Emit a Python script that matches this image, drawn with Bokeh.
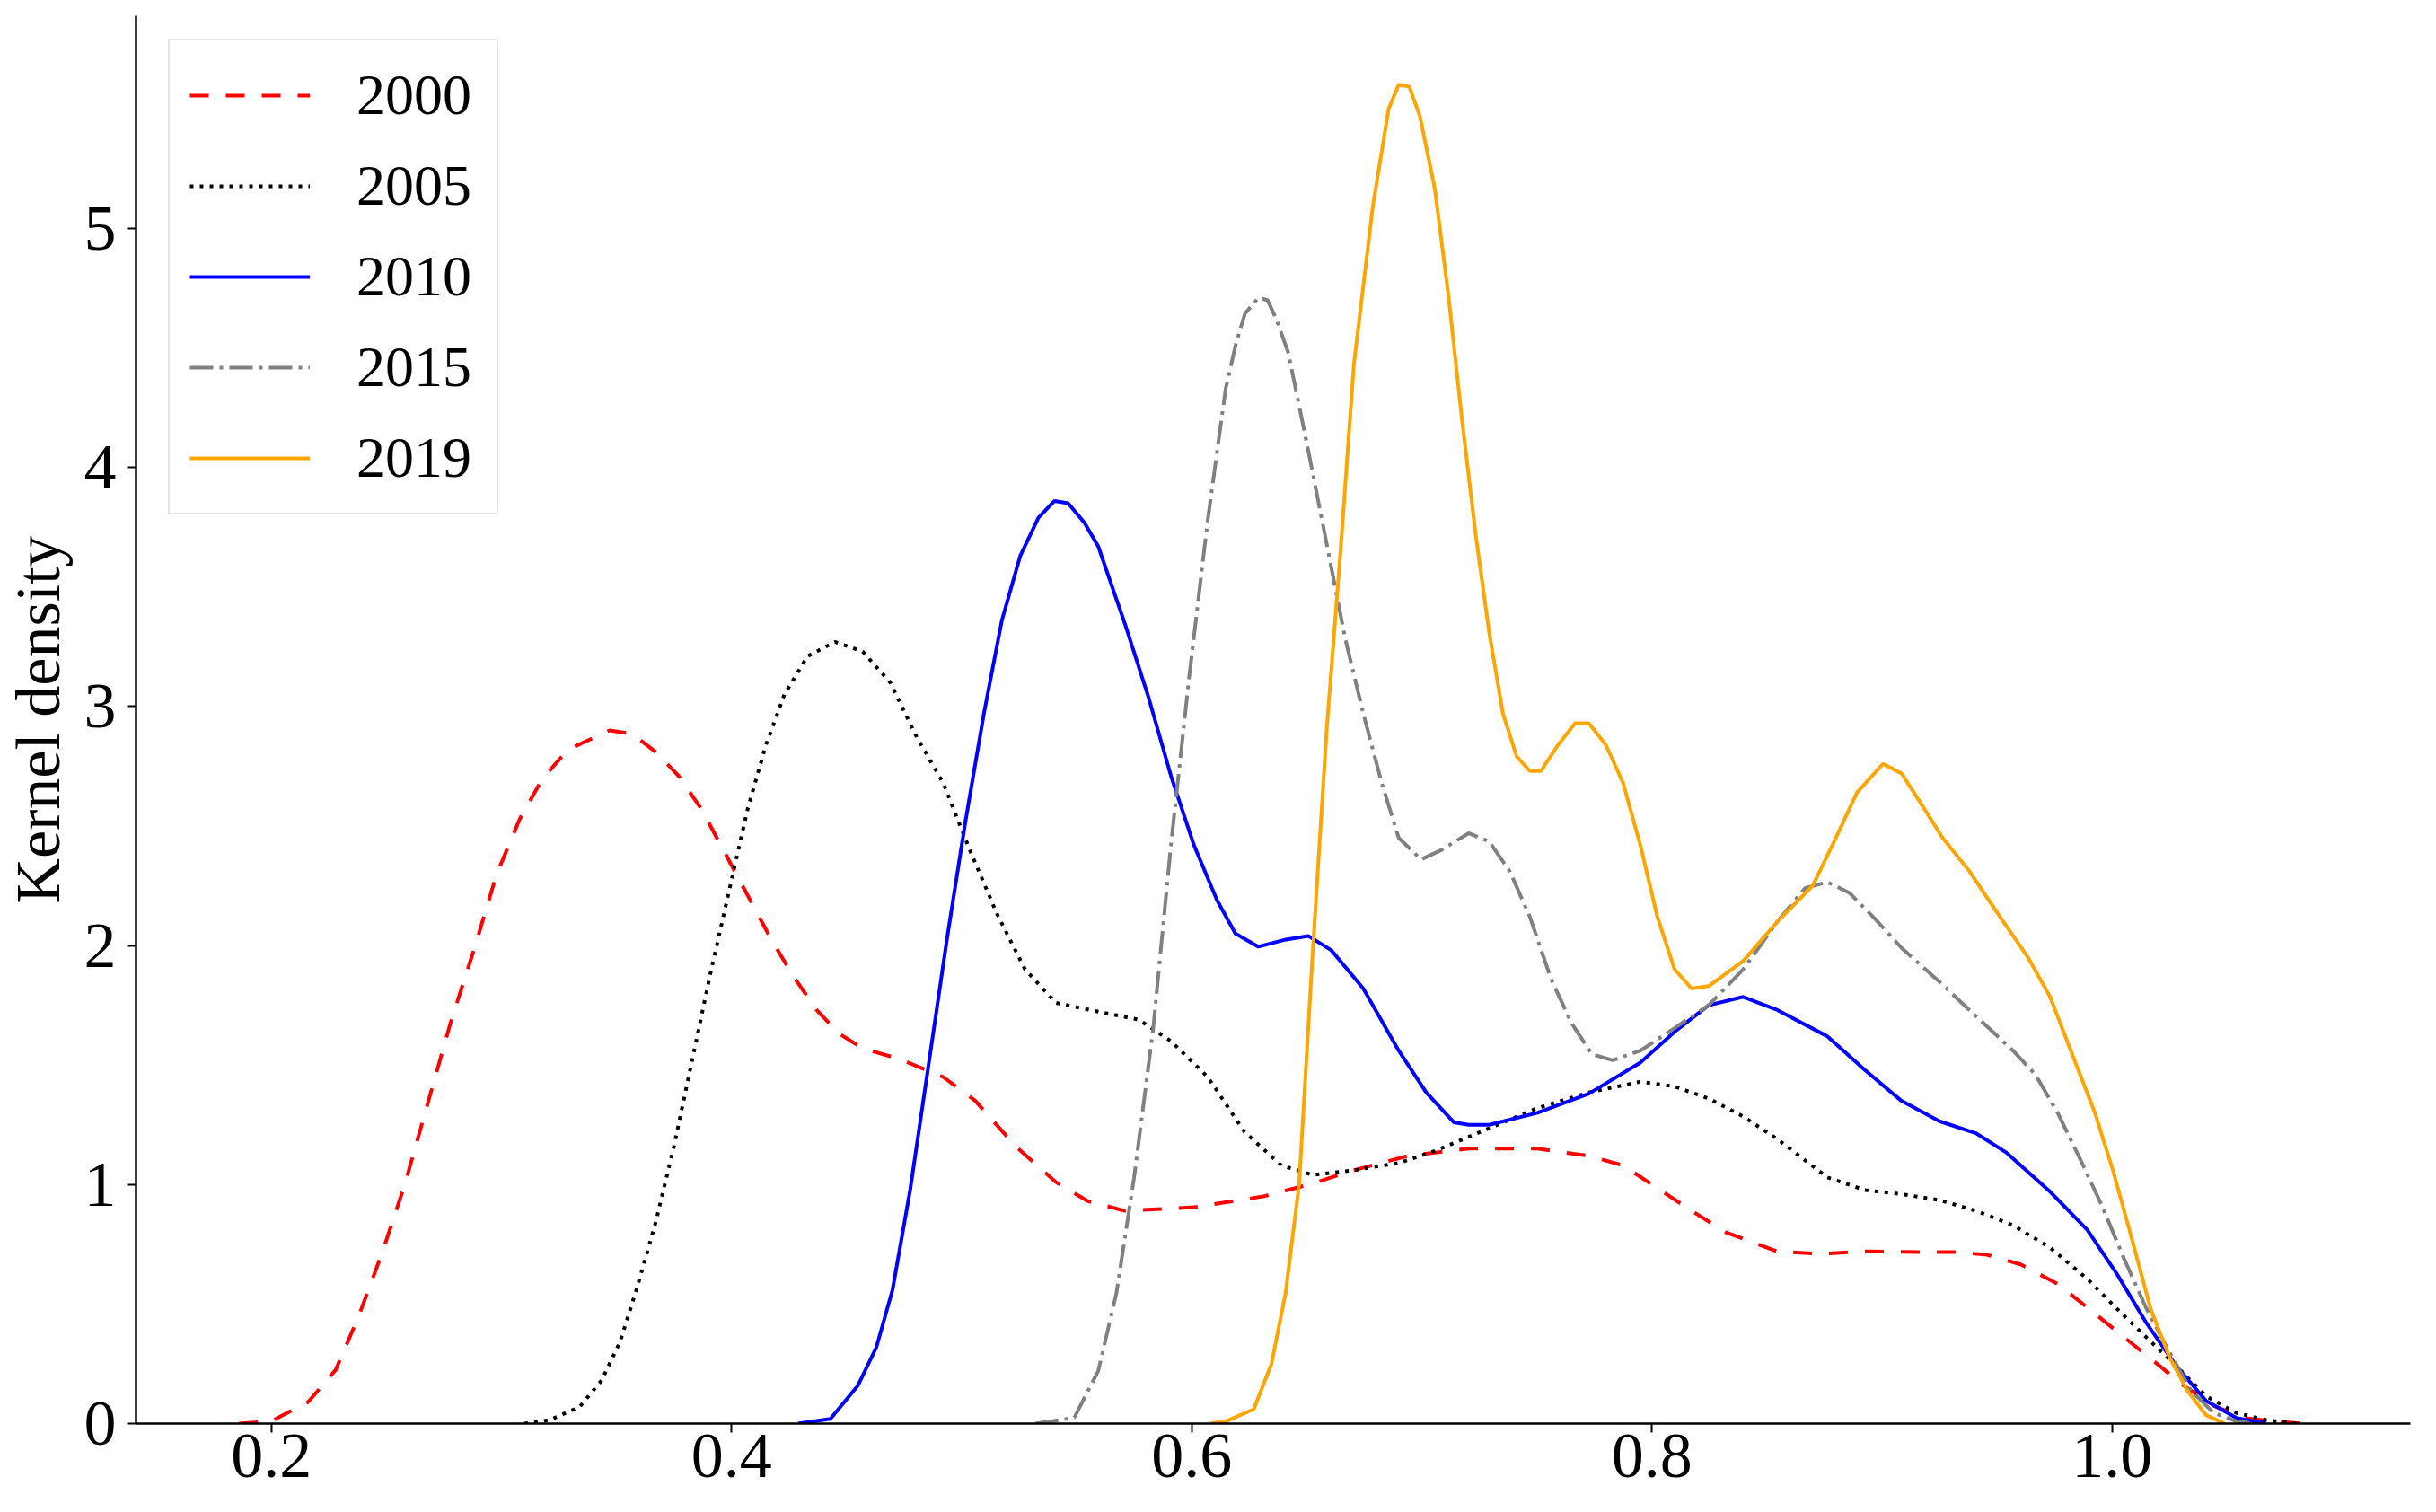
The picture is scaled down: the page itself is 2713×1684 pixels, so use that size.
from bokeh.plotting import figure
from bokeh.models import Range1d, FixedTicker, Legend, LegendItem, NumeralTickFormatter
from bokeh.embed import file_html
from bokeh.resources import INLINE

# ---------------- data ----------------
years = ["2000", "2005", "2010", "2015", "2019"]

x_2000 = [0.186, 0.200, 0.216, 0.228, 0.238, 0.248, 0.258, 0.268, 0.278, 0.288,
          0.298, 0.308, 0.318, 0.329, 0.347, 0.357, 0.367, 0.377, 0.387, 0.397,
          0.407, 0.417, 0.427, 0.437, 0.447, 0.457, 0.473, 0.492, 0.506, 0.5235,
          0.541, 0.555, 0.571, 0.601, 0.631, 0.651, 0.6705, 0.694, 0.7204, 0.7503,
          0.7726, 0.7875, 0.8024, 0.8173, 0.8322, 0.8546, 0.8725, 0.8925, 0.9166, 0.9328,
          0.9457, 0.9603, 0.9764, 0.9926, 1.0054, 1.0183, 1.0313, 1.0442, 1.057, 1.070,
          1.083]
y_2000 = [0.0, 0.01, 0.09, 0.225, 0.45, 0.71, 1.0, 1.34, 1.68, 1.98,
          2.30, 2.53, 2.70, 2.82, 2.90, 2.885, 2.81, 2.71, 2.57, 2.39,
          2.21, 2.03, 1.87, 1.73, 1.63, 1.57, 1.525, 1.45, 1.35, 1.16,
          1.01, 0.93, 0.89, 0.905, 0.95, 1.0, 1.06, 1.12, 1.15, 1.15,
          1.12, 1.08, 0.985, 0.89, 0.80, 0.72, 0.71, 0.72, 0.717, 0.717,
          0.706, 0.666, 0.584, 0.46, 0.36, 0.26, 0.158, 0.075, 0.024, 0.01,
          0.0]

x_2005 = [0.310, 0.321, 0.334, 0.3435, 0.3515, 0.359, 0.367, 0.375, 0.383, 0.391,
          0.399, 0.407, 0.415, 0.423, 0.433, 0.445, 0.457, 0.469, 0.4806, 0.492,
          0.504, 0.5155, 0.5276, 0.541, 0.561, 0.577, 0.591, 0.607, 0.623, 0.639,
          0.6526, 0.6705, 0.690, 0.7057, 0.728, 0.7503, 0.7726, 0.795, 0.81, 0.8247,
          0.8397, 0.8546, 0.8695, 0.8763, 0.8925, 0.9085, 0.925, 0.9408, 0.957, 0.9731,
          0.9893, 1.0022, 1.015, 1.028, 1.0409, 1.054, 1.067, 1.08]
y_2005 = [0.0, 0.015, 0.07, 0.18, 0.34, 0.57, 0.84, 1.16, 1.525, 1.89,
          2.23, 2.57, 2.84, 3.05, 3.21, 3.27, 3.23, 3.10, 2.87, 2.68,
          2.39, 2.13, 1.90, 1.76, 1.72, 1.69, 1.60, 1.45, 1.22, 1.08,
          1.04, 1.06, 1.09, 1.14, 1.23, 1.32, 1.385, 1.43, 1.41, 1.36,
          1.285, 1.19, 1.08, 1.03, 0.977, 0.96, 0.935, 0.89, 0.83, 0.736,
          0.605, 0.48, 0.36, 0.24, 0.115, 0.045, 0.015, 0.0]

x_2010 = [0.429, 0.443, 0.455, 0.463, 0.470, 0.4777, 0.4858, 0.4937, 0.5017, 0.5097,
          0.5175, 0.5255, 0.5334, 0.5404, 0.5463, 0.5533, 0.5594, 0.5712, 0.5812, 0.591,
          0.601, 0.611, 0.619, 0.629, 0.641, 0.6507, 0.6607, 0.6746, 0.690, 0.702,
          0.714, 0.7204, 0.7293, 0.7503, 0.7726, 0.795, 0.81, 0.8247, 0.8397, 0.8546,
          0.8763, 0.8925, 0.9085, 0.925, 0.9408, 0.9539, 0.9731, 0.9893, 1.0022, 1.015,
          1.028, 1.0409, 1.054, 1.067]
y_2010 = [0.0, 0.02, 0.16, 0.32, 0.56, 0.98, 1.51, 2.03, 2.52, 2.97,
          3.36, 3.63, 3.79, 3.86, 3.85, 3.77, 3.67, 3.34, 3.04, 2.71,
          2.42, 2.19, 2.05, 1.995, 2.025, 2.04, 1.98, 1.82, 1.56, 1.385,
          1.26, 1.25, 1.25, 1.30, 1.38, 1.51, 1.64, 1.75, 1.785, 1.73,
          1.62, 1.48, 1.35, 1.265, 1.215, 1.135, 0.97, 0.81, 0.625, 0.42,
          0.24, 0.095, 0.024, 0.0]

x_2015 = [0.532, 0.5394, 0.549, 0.5594, 0.5673, 0.575, 0.5832, 0.591, 0.599, 0.607,
          0.6148, 0.6193, 0.6232, 0.629, 0.633, 0.6368, 0.642, 0.6507, 0.6587, 0.6666,
          0.6746, 0.6826, 0.690, 0.6997, 0.7086, 0.7204, 0.7293, 0.7383, 0.747, 0.7562,
          0.7651, 0.774, 0.783, 0.795, 0.81, 0.8247, 0.8397, 0.8546, 0.8666, 0.8763,
          0.8859, 0.8972, 0.9085, 0.9248, 0.9408, 0.957, 0.9667, 0.9764, 0.986, 0.9957,
          1.0054, 1.015, 1.0249, 1.0345, 1.0442, 1.0539, 1.062]
y_2015 = [0.0, 0.01, 0.025, 0.22, 0.545, 1.03, 1.645, 2.42, 3.13, 3.78,
          4.33, 4.52, 4.644, 4.71, 4.70, 4.62, 4.48, 4.07, 3.68, 3.29,
          2.97, 2.68, 2.45, 2.36, 2.40, 2.47, 2.435, 2.31, 2.12, 1.86,
          1.675, 1.545, 1.52, 1.56, 1.655, 1.75, 1.90, 2.10, 2.24, 2.265,
          2.22, 2.11, 1.99, 1.85, 1.705, 1.56, 1.46, 1.30, 1.11, 0.91,
          0.686, 0.48, 0.30, 0.136, 0.045, 0.01, 0.0]

x_2019 = [0.608, 0.615, 0.627, 0.6347, 0.6408, 0.6467, 0.6526, 0.6587, 0.6647, 0.6705,
          0.6787, 0.6856, 0.690, 0.6946, 0.6992, 0.7057, 0.7116, 0.7175, 0.7235, 0.7293,
          0.7353, 0.7413, 0.747, 0.7518, 0.7593, 0.7667, 0.7726, 0.78, 0.7875, 0.795,
          0.8024, 0.8099, 0.8173, 0.8247, 0.8397, 0.8546, 0.8699, 0.8795, 0.8892, 0.9005,
          0.9085, 0.9166, 0.9264, 0.9377, 0.9506, 0.9635, 0.9731, 0.9829, 0.9926, 1.0007,
          1.0087, 1.0168, 1.0249, 1.0329, 1.0409, 1.049]
y_2019 = [0.0, 0.01, 0.06, 0.25, 0.545, 1.0, 1.97, 2.905, 3.65, 4.43,
          5.09, 5.50, 5.602, 5.593, 5.47, 5.165, 4.72, 4.20, 3.715, 3.31,
          2.97, 2.79, 2.73, 2.73, 2.84, 2.93, 2.93, 2.84, 2.68, 2.42,
          2.12, 1.90, 1.82, 1.83, 1.935, 2.10, 2.25, 2.44, 2.64, 2.76,
          2.72, 2.60, 2.45, 2.315, 2.13, 1.95, 1.785, 1.54, 1.30, 1.05,
          0.77, 0.48, 0.28, 0.136, 0.035, 0.0]

x_ticks = [0.2, 0.4, 0.6, 0.8, 1.0]
x_tick_labels = ["0.2", "0.4", "0.6", "0.8", "1.0"]
y_ticks = [0, 1, 2, 3, 4, 5]
y_tick_labels = ["0", "1", "2", "3", "4", "5"]
y_axis_title = "Kernel density"

# ---------------- styling ----------------
series_x = [x_2000, x_2005, x_2010, x_2015, x_2019]
series_y = [y_2000, y_2005, y_2010, y_2015, y_2019]
colors = ["#ff0000", "#000000", "#0000ff", "#808080", "#ffa500"]
dashes = ["21 19", "4 7", "solid", "26 7 4 7", "solid"]
widths = [4, 4, 4, 4, 4]

FONT = "Liberation Serif"

p = figure(width=2697, height=1676, output_backend="svg", toolbar_location=None,
           x_range=Range1d(0.1412, 1.1297), y_range=Range1d(0, 5.89),
           min_border_left=146, min_border_right=13,
           min_border_top=17, min_border_bottom=91)
p.outline_line_color = None
p.grid.visible = False
p.background_fill_color = "white"
p.border_fill_color = "white"

renderers = []
for xs, ys, c, d, w in zip(series_x, series_y, colors, dashes, widths):
    r = p.line(xs, ys, line_color=c, line_width=w, line_dash=d)
    renderers.append(r)

p.xaxis.ticker = FixedTicker(ticks=x_ticks)
p.xaxis.formatter = NumeralTickFormatter(format="0.0")
p.xaxis.major_label_overrides = {t: l for t, l in zip(x_ticks, x_tick_labels)}
p.yaxis.ticker = FixedTicker(ticks=y_ticks)
p.yaxis.major_label_overrides = {t: l for t, l in zip(y_ticks, y_tick_labels)}

for ax in (p.xaxis[0], p.yaxis[0]):
    ax.axis_line_color = "black"
    ax.axis_line_width = 2.5
    ax.major_tick_line_color = "black"
    ax.major_tick_line_width = 2
    ax.major_tick_out = 10
    ax.major_tick_in = 0
    ax.minor_tick_out = 0
    ax.minor_tick_in = 0
    ax.major_label_text_font = FONT
    ax.major_label_text_font_size = "72px"
    ax.major_label_text_color = "black"

p.xaxis.major_label_standoff = 2
p.yaxis.major_label_standoff = 12
p.yaxis.axis_label = y_axis_title
p.yaxis.axis_label_text_font = FONT
p.yaxis.axis_label_text_font_size = "70px"
p.yaxis.axis_label_text_font_style = "normal"
p.yaxis.axis_label_text_color = "black"
p.yaxis.axis_label_standoff = 10

legend = Legend(items=[LegendItem(label=y, renderers=[r]) for y, r in zip(years, renderers)],
                location=(36, 1012))
legend.label_text_font = FONT
legend.label_text_font_size = "64px"
legend.label_text_color = "black"
legend.label_height = 78
legend.label_width = 134
legend.glyph_height = 78
legend.glyph_width = 134
legend.label_standoff = 52
legend.padding = 22
legend.spacing = 23
legend.margin = 0
legend.border_line_color = "#cccccc"
legend.border_line_width = 2
legend.background_fill_color = "white"
legend.background_fill_alpha = 0.8
p.add_layout(legend)

open("out.html", "w").write(file_html(p, INLINE))
